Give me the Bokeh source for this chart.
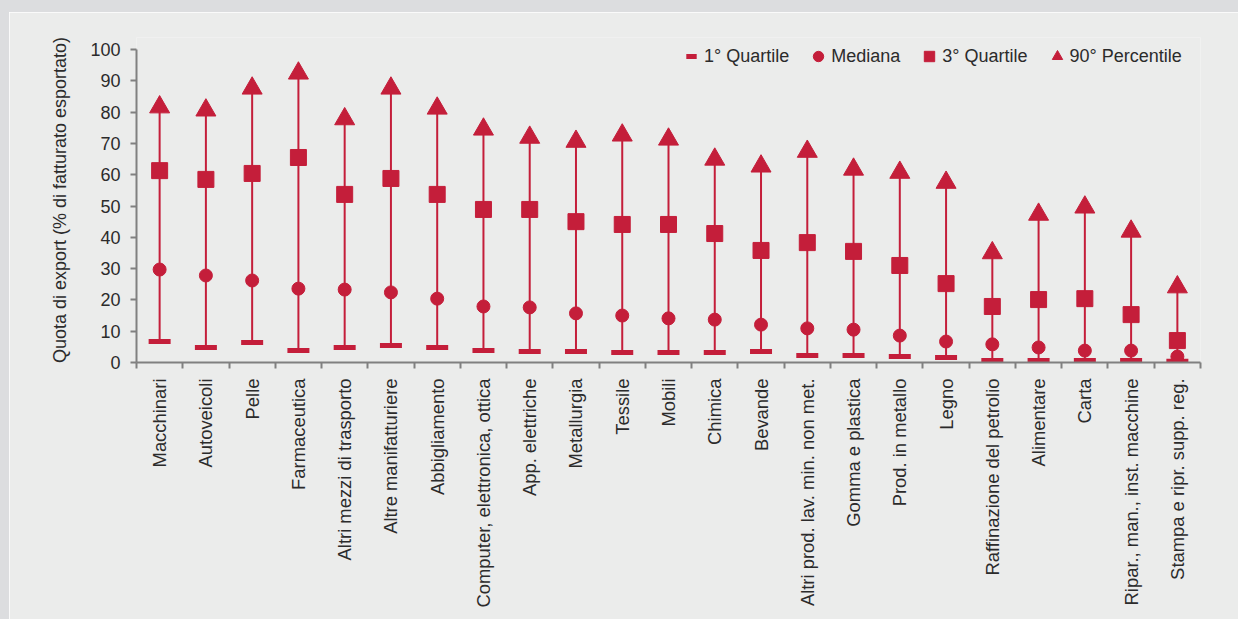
import math
from bokeh.plotting import figure
from bokeh.models import Range1d, FixedTicker, Legend, LegendItem, ColumnDataSource
from bokeh.embed import file_html
from bokeh.resources import INLINE

categories = [
    "Macchinari", "Autoveicoli", "Pelle", "Farmaceutica", "Altri mezzi di trasporto",
    "Altre manifatturiere", "Abbigliamento", "Computer, elettronica, ottica",
    "App. elettriche", "Metallurgia", "Tessile", "Mobili", "Chimica", "Bevande",
    "Altri prod. lav. min. non met.", "Gomma e plastica", "Prod. in metallo", "Legno",
    "Raffinazione del petrolio", "Alimentare", "Carta", "Ripar., man., inst. macchine",
    "Stampa e ripr. supp. reg.",
]
q1 = [6.7, 4.8, 6.4, 3.8, 4.8, 5.4, 4.8, 3.8, 3.5, 3.5, 3.2, 3.2, 3.2, 3.5,
      2.2, 2.2, 1.9, 1.6, 0.6, 0.6, 0.6, 0.6, 0.4]
median = [29.7, 27.8, 26.2, 23.6, 23.3, 22.4, 20.4, 17.9, 17.6, 15.7, 15.0, 14.1, 13.7, 12.1,
          10.9, 10.5, 8.6, 6.7, 5.8, 4.8, 3.8, 3.8, 1.9]
q3 = [61.3, 58.5, 60.4, 65.5, 53.7, 58.8, 53.7, 48.9, 48.9, 45.0, 44.1, 44.1, 41.2, 35.8,
      38.3, 35.5, 31.0, 25.2, 17.9, 20.1, 20.4, 15.3, 7.0]
p90 = [81.6, 80.6, 87.6, 92.4, 77.8, 87.6, 81.2, 74.5, 71.9, 70.6, 72.6, 71.3, 64.9, 62.7,
       67.4, 61.7, 60.7, 57.5, 35.0, 47.3, 49.6, 41.9, 24.1]
y_ticks = [0, 10, 20, 30, 40, 50, 60, 70, 80, 90, 100]
series_labels = ["1° Quartile", "Mediana", "3° Quartile", "90° Percentile"]
y_title = "Quota di export (% di fatturato esportato)"

RED = "#c41e3a"
BG = "#ebeceb"
BAND = "#dcdddf"
AXIS = "#808080"
TEXT = "#2b2b2b"
FONT = "Liberation Sans"

n = len(categories)
xs = list(range(1, n + 1))
src = ColumnDataSource(dict(x=xs, q1=q1, median=median, q3=q3, p90=p90))

# frame: 325 px tall, 100 units = 313 px -> top of range a bit above 100
y_top = 325 / 3.13

p = figure(width=1238, height=619, output_backend="svg", toolbar_location=None,
           x_range=Range1d(0.5, n + 0.5), y_range=Range1d(0, y_top),
           min_border_left=127, min_border_right=47, min_border_top=25, min_border_bottom=269)
p.styles = {"border-top": "12px solid " + BAND, "border-left": "9px solid " + BAND}
p.background_fill_color = BG
p.border_fill_color = BG
p.outline_line_color = None
p.xgrid.visible = False
p.ygrid.visible = False

p.segment(x0="x", y0="q1", x1="x", y1="p90", source=src, line_color=RED, line_width=2)
r_q1 = p.scatter("x", "q1", source=src, marker="dash", size=22, line_width=5, line_color=RED)
r_med = p.scatter("x", "median", source=src, marker="circle", size=13, fill_color=RED, line_color=RED)
r_q3 = p.scatter("x", "q3", source=src, marker="square", size=16, fill_color=RED, line_color=RED)
r_p90 = p.scatter("x", "p90", source=src, marker="triangle", size=20, fill_color=RED, line_color=RED)

# x axis
xa = p.xaxis[0]
xa.ticker = FixedTicker(ticks=xs, minor_ticks=[i + 0.5 for i in range(0, n + 1)])
xa.major_label_overrides = {x: c for x, c in zip(xs, categories)}
xa.major_label_orientation = math.pi / 2
xa.major_tick_line_color = None
xa.major_tick_out = 0
xa.major_tick_in = 0
xa.minor_tick_out = 6
xa.minor_tick_in = 0
xa.minor_tick_line_color = AXIS
xa.minor_tick_line_width = 2
xa.axis_line_color = AXIS
xa.axis_line_width = 2
xa.major_label_standoff = 10
xa.major_label_text_font = FONT
xa.major_label_text_font_size = "18.4px"
xa.major_label_text_color = TEXT

# y axis
ya = p.yaxis[0]
ya.ticker = FixedTicker(ticks=y_ticks)
ya.bounds = (0, 100)
ya.major_tick_out = 6
ya.major_tick_in = 0
ya.major_tick_line_color = AXIS
ya.major_tick_line_width = 2
ya.minor_tick_line_color = None
ya.axis_line_color = AXIS
ya.axis_line_width = 2
ya.major_label_standoff = 10
ya.major_label_text_font = FONT
ya.major_label_text_font_size = "18px"
ya.major_label_text_color = TEXT
ya.axis_label = y_title
ya.axis_label_standoff = 17
ya.axis_label_text_font = FONT
ya.axis_label_text_font_size = "18px"
ya.axis_label_text_font_style = "normal"
ya.axis_label_text_color = TEXT

legend = Legend(items=[LegendItem(label=series_labels[0], renderers=[r_q1]),
                       LegendItem(label=series_labels[1], renderers=[r_med]),
                       LegendItem(label=series_labels[2], renderers=[r_q3]),
                       LegendItem(label=series_labels[3], renderers=[r_p90])],
                orientation="horizontal", location=(542, 293),
                glyph_width=26, glyph_height=26, label_standoff=0, spacing=16,
                padding=0, margin=0, background_fill_alpha=0, border_line_color=None,
                label_text_font=FONT, label_text_font_size="18px", label_text_color=TEXT)
p.add_layout(legend)

open("out.html", "w").write(file_html(p, INLINE))
